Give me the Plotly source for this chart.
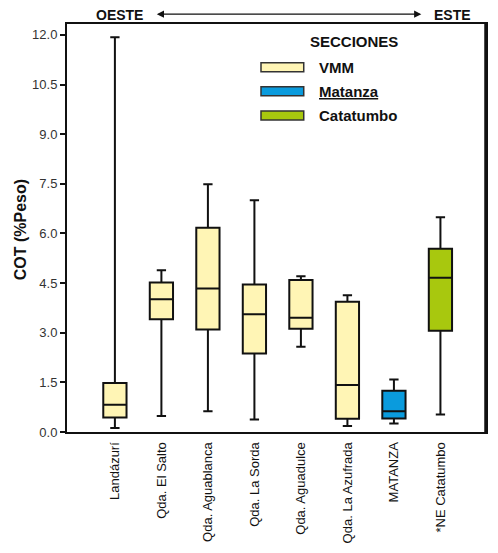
"""Box plot of COT (%Peso) by locality, grouped by section."""

import plotly.graph_objects as go

# --- data ------------------------------------------------------------------
categories = [
    "Landázurí", "Qda. El Salto", "Qda. Aguablanca", "Qda. La Sorda",
    "Qda. Aguadulce", "Qda. La Azufrada", "MATANZA", "*NE Catatumbo",
]

vmm_sites = categories[:6]
vmm_low = [0.12, 0.48, 0.63, 0.38, 2.58, 0.18]
vmm_q1 = [0.44, 3.41, 3.10, 2.37, 3.12, 0.40]
vmm_median = [0.82, 4.01, 4.34, 3.56, 3.45, 1.42]
vmm_q3 = [1.48, 4.52, 6.17, 4.46, 4.59, 3.94]
vmm_high = [11.93, 4.89, 7.49, 7.00, 4.71, 4.13]

matanza_sites = ["MATANZA"]
matanza_low = [0.26]
matanza_q1 = [0.41]
matanza_median = [0.63]
matanza_q3 = [1.25]
matanza_high = [1.59]

catatumbo_sites = ["*NE Catatumbo"]
catatumbo_low = [0.53]
catatumbo_q1 = [3.06]
catatumbo_median = [4.66]
catatumbo_q3 = [5.54]
catatumbo_high = [6.49]

y_ticks = [0.0, 1.5, 3.0, 4.5, 6.0, 7.5, 9.0, 10.5, 12.0]

sections = [
    ("VMM", "#FFF5B5", vmm_sites, vmm_low, vmm_q1, vmm_median, vmm_q3, vmm_high),
    ("<u>Matanza</u>", "#0A9BDD", matanza_sites, matanza_low, matanza_q1,
     matanza_median, matanza_q3, matanza_high),
    ("Catatumbo", "#A8C80E", catatumbo_sites, catatumbo_low, catatumbo_q1,
     catatumbo_median, catatumbo_q3, catatumbo_high),
]

FONT = "Liberation Sans, Arial, sans-serif"

fig = go.Figure()

for name, color, sites, low, q1, med, q3, high in sections:
    fig.add_trace(go.Box(
        x=sites,
        lowerfence=low,
        q1=q1,
        median=med,
        q3=q3,
        upperfence=high,
        name=name,
        fillcolor=color,
        line=dict(color="#111111", width=2),
        width=0.5,
        whiskerwidth=0.4,
        boxpoints=False,
        showlegend=False,
        hoverinfo="skip",
    ))

# legend drawn by hand (wide swatches like the original)
legend_rows = [(0.894, "#FFF5B5", "VMM"), (0.835, "#0A9BDD", "<u>Matanza</u>"),
               (0.776, "#A8C80E", "Catatumbo")]
for yc, color, label in legend_rows:
    fig.add_shape(
        type="rect", xref="paper", yref="paper",
        x0=0.463, x1=0.565, y0=yc - 0.011, y1=yc + 0.011,
        fillcolor=color, line=dict(color="#333333", width=1.5),
    )
    fig.add_annotation(
        xref="paper", yref="paper", x=0.596, y=yc, text=f"<b>{label}</b>",
        showarrow=False, xanchor="left", yanchor="middle",
        font=dict(family=FONT, size=15, color="#111111"),
    )

fig.add_annotation(
    xref="paper", yref="paper", x=0.684, y=0.956, text="<b>SECCIONES</b>",
    showarrow=False, xanchor="center", yanchor="middle",
    font=dict(family=FONT, size=15, color="#111111"),
)

# OESTE <-> ESTE header
fig.add_annotation(
    xref="paper", yref="paper", x=0.126, y=1.0225, text="<b>OESTE</b>",
    showarrow=False, xanchor="center", yanchor="middle", borderpad=0,
    font=dict(family=FONT, size=14, color="#111111"),
)
fig.add_annotation(
    xref="paper", yref="paper", x=0.919, y=1.0225, text="<b>ESTE</b>",
    showarrow=False, xanchor="center", yanchor="middle", borderpad=0,
    font=dict(family=FONT, size=14, color="#111111"),
)
fig.add_annotation(
    xref="paper", yref="paper", x=0.8456, y=1.024, text="",
    showarrow=True, ax=-266, ay=0, arrowside="end+start",
    arrowhead=2, arrowsize=1.2, arrowwidth=1.2, arrowcolor="#111111",
)

# y axis title placed by hand
fig.add_annotation(
    xref="paper", yref="paper", x=-0.1116, y=0.495, text="<b>COT (%Peso)</b>",
    showarrow=False, textangle=-90, xanchor="center", yanchor="middle",
    font=dict(family=FONT, size=16, color="#111111"),
)

# thick right border
fig.add_shape(
    type="line", xref="paper", yref="paper", x0=1, x1=1, y0=0, y1=1,
    line=dict(color="#111111", width=3.5),
)

# the page body adds an 8px offset, so the figure is 8px smaller
fig.update_layout(
    width=490,
    height=545,
    margin=dict(l=59, r=10, t=16, b=121),
    paper_bgcolor="white",
    plot_bgcolor="white",
    boxmode="overlay",
    font=dict(family=FONT, color="#222222"),
    xaxis=dict(
        type="category",
        categoryorder="array",
        categoryarray=categories,
        range=[-1.03, 7.98],
        showline=True, linecolor="#111111", linewidth=2, mirror=True,
        ticks="", tickangle=-90, ticklabelstandoff=3,
        tickfont=dict(family=FONT, size=13, color="#111111"),
        showgrid=False, zeroline=False,
    ),
    yaxis=dict(
        range=[0, 12.33],
        tickvals=y_ticks,
        tickformat=".1f",
        ticks="outside", ticklen=5, tickwidth=1.5, tickcolor="#111111",
        tickfont=dict(family=FONT, size=13, color="#333333"),
        showline=True, linecolor="#111111", linewidth=2, mirror=True,
        showgrid=False, zeroline=False,
    ),
)

fig.write_html("out.html")
